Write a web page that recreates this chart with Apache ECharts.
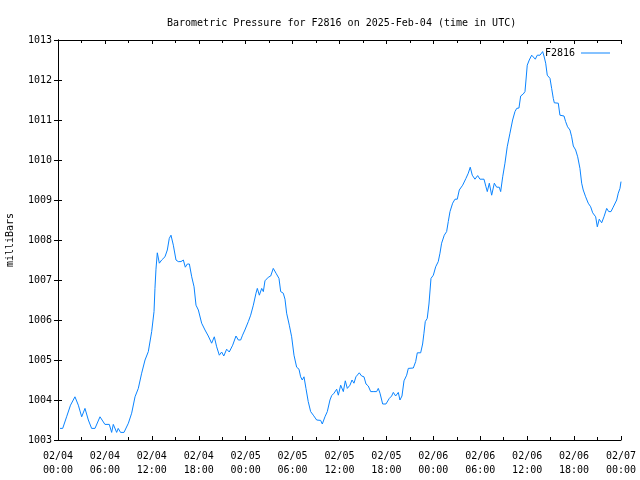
<!DOCTYPE html>
<html>
<head>
<meta charset="utf-8">
<script src="https://cdn.jsdelivr.net/npm/echarts@6/dist/echarts.min.js"></script>
<style>html,body{margin:0;padding:0;background:#fff}#c{width:640px;height:480px}</style>
</head>
<body>
<div id="c"></div>
<script>
var titleText = 'Barometric Pressure for F2816 on 2025-Feb-04 (time in UTC)';
var seriesName = 'F2816';
var yAxisName = 'milliBars';
var dateLabels = ['02/04','02/04','02/04','02/04','02/05','02/05','02/05','02/05','02/06','02/06','02/06','02/06','02/07'];
var timeLabels = ['00:00','06:00','12:00','18:00','00:00','06:00','12:00','18:00','00:00','06:00','12:00','18:00','00:00'];
// hours since 02/04 00:00 UTC
var hours = [0.26,0.6,1.1,1.6,2.17,2.6,3.03,3.45,3.88,4.3,4.73,5.37,6.0,6.56,6.86,7.07,7.5,7.7,8.0,8.44,9.0,9.42,9.85,10.27,10.7,11.13,11.55,11.98,12.28,12.4,12.53,12.7,12.96,13.26,13.68,13.98,14.23,14.45,14.75,15.09,15.38,15.73,16.03,16.28,16.54,16.8,17.1,17.4,17.65,17.95,18.37,18.8,19.22,19.65,19.99,20.29,20.63,20.93,21.2,21.57,21.9,22.34,22.76,23.06,23.36,23.6,23.9,24.34,24.64,24.98,25.32,25.49,25.75,26.05,26.26,26.47,26.9,27.2,27.53,27.88,28.26,28.48,28.81,29.03,29.24,29.58,29.88,30.18,30.52,30.82,31.03,31.24,31.46,31.71,32.0,32.31,32.65,33.08,33.59,33.8,34.14,34.44,34.78,35.0,35.3,35.64,35.85,36.15,36.49,36.74,37.0,37.34,37.6,37.85,38.1,38.32,38.53,38.83,39.13,39.39,39.68,39.99,40.4,40.75,40.96,41.18,41.52,41.94,42.37,42.67,42.88,43.18,43.52,43.73,43.99,44.25,44.59,44.8,45.44,45.74,45.95,46.38,46.63,46.8,46.97,47.22,47.44,47.7,48.0,48.3,48.63,48.85,49.06,49.4,49.7,49.91,50.13,50.47,50.77,51.06,51.32,51.75,52.17,52.47,52.72,52.98,53.32,53.67,53.96,54.48,54.73,54.9,55.16,55.46,55.8,56.1,56.43,56.61,56.87,57.16,57.45,57.8,58.14,58.44,58.66,58.95,59.17,59.5,59.72,59.85,60.01,60.27,60.58,60.78,61.04,61.29,61.64,61.85,61.98,62.15,62.37,62.57,62.92,63.13,63.34,63.47,63.98,64.19,64.71,64.92,65.17,65.47,65.69,65.9,66.2,66.46,66.75,66.97,67.17,67.48,67.81,68.12,68.38,68.76,68.97,69.22,69.53,69.82,70.17,70.43,70.72,71.0,71.23,71.45,71.65,71.87,72.0];
var pressure = [1003.29,1003.29,1003.58,1003.87,1004.08,1003.87,1003.58,1003.79,1003.5,1003.29,1003.29,1003.58,1003.39,1003.39,1003.19,1003.39,1003.19,1003.29,1003.19,1003.19,1003.42,1003.67,1004.08,1004.29,1004.67,1005.0,1005.21,1005.71,1006.21,1006.79,1007.27,1007.68,1007.42,1007.5,1007.58,1007.75,1008.04,1008.12,1007.87,1007.5,1007.46,1007.46,1007.5,1007.32,1007.4,1007.4,1007.08,1006.83,1006.37,1006.25,1005.92,1005.75,1005.6,1005.42,1005.58,1005.33,1005.12,1005.2,1005.1,1005.27,1005.2,1005.37,1005.6,1005.5,1005.5,1005.62,1005.75,1005.96,1006.12,1006.37,1006.67,1006.79,1006.62,1006.79,1006.71,1006.98,1007.07,1007.1,1007.29,1007.17,1007.04,1006.71,1006.67,1006.52,1006.17,1005.87,1005.58,1005.12,1004.82,1004.77,1004.58,1004.5,1004.58,1004.29,1003.96,1003.71,1003.62,1003.5,1003.49,1003.4,1003.58,1003.71,1004.0,1004.11,1004.17,1004.27,1004.12,1004.37,1004.21,1004.48,1004.29,1004.37,1004.5,1004.42,1004.58,1004.55,1004.68,1004.6,1004.58,1004.4,1004.35,1004.21,1004.21,1004.21,1004.29,1004.17,1003.9,1003.9,1004.04,1004.1,1004.19,1004.1,1004.19,1004.0,1004.1,1004.48,1004.62,1004.79,1004.8,1004.96,1005.18,1005.18,1005.4,1005.67,1005.96,1006.04,1006.4,1007.04,1007.12,1007.33,1007.46,1007.67,1007.92,1008.12,1008.21,1008.46,1008.71,1008.92,1009.02,1009.02,1009.25,1009.37,1009.54,1009.67,1009.82,1009.62,1009.52,1009.61,1009.52,1009.52,1009.33,1009.21,1009.42,1009.12,1009.42,1009.32,1009.32,1009.21,1009.58,1009.92,1010.33,1010.67,1011.0,1011.21,1011.29,1011.3,1011.6,1011.65,1011.71,1012.0,1012.37,1012.5,1012.62,1012.6,1012.52,1012.62,1012.62,1012.67,1012.71,1012.6,1012.42,1012.12,1012.04,1011.79,1011.54,1011.43,1011.42,1011.12,1011.1,1010.96,1010.83,1010.75,1010.58,1010.35,1010.25,1010.08,1009.79,1009.42,1009.25,1009.08,1008.92,1008.83,1008.68,1008.58,1008.33,1008.52,1008.43,1008.58,1008.79,1008.71,1008.71,1008.82,1008.82,1009.0,1009.17,1009.29,1009.46];

var data = hours.map(function (h, i) { return [h, pressure[i]]; });
var FONT = 'DejaVu Sans Mono';
var lineColor = '#0a84ff';

var chart = echarts.init(document.getElementById('c'), null, { renderer: 'canvas' });
var axisLine = { show: true, lineStyle: { color: '#000', width: 1 } };
var xCommon = {
  type: 'value', min: 0, max: 72, interval: 6,
  axisLine: axisLine,
  axisTick: { show: true, inside: true, length: 4, lineStyle: { color: '#000' } },
  minorTick: { show: true, splitNumber: 2, length: 3, lineStyle: { color: '#000' } },
  splitLine: { show: false }, minorSplitLine: { show: false }
};
var yCommon = {
  type: 'value', min: 1003, max: 1013, interval: 1,
  axisLine: axisLine,
  axisTick: { show: true, inside: true, length: 4, lineStyle: { color: '#000' } },
  splitLine: { show: false }
};
chart.setOption({
  animation: false,
  backgroundColor: '#fff',
  title: {
    text: titleText, left: 162, top: 13,
    textStyle: { fontFamily: FONT, fontSize: 10, fontWeight: 'normal', color: '#000' }
  },
  legend: {
    data: [{ name: seriesName, icon: 'rect' }],
    right: 25, top: 43, align: 'right', itemWidth: 29, itemHeight: 1, itemGap: 0,
    textStyle: { fontFamily: FONT, fontSize: 10, color: '#000', padding: [0, 1, 0, 0] }
  },
  grid: { left: 58, right: 19, top: 40, bottom: 40, containLabel: false, outerBoundsMode: 'none' },
  xAxis: [
    Object.assign({}, xCommon, {
      position: 'bottom',
      axisLabel: {
        show: true, margin: 9, lineHeight: 14, fontFamily: FONT, fontSize: 10, color: '#000',
        showMinLabel: true, showMaxLabel: true,
        formatter: function (v) { var i = Math.round(v / 6); return dateLabels[i] + '\n' + timeLabels[i]; }
      }
    }),
    Object.assign({}, xCommon, { position: 'top', axisLabel: { show: false } })
  ],
  yAxis: [
    Object.assign({}, yCommon, {
      position: 'left',
      name: yAxisName, nameLocation: 'middle', nameGap: 43, nameRotate: 90,
      nameTextStyle: { fontFamily: FONT, fontSize: 10, color: '#000' },
      axisLabel: { show: true, margin: 6, fontFamily: FONT, fontSize: 10, color: '#000',
        formatter: function (v) { return String(v); } }
    }),
    Object.assign({}, yCommon, { position: 'right', axisLabel: { show: false } })
  ],
  series: [{
    name: seriesName, type: 'line', xAxisIndex: 0, yAxisIndex: 0,
    data: data, showSymbol: false, symbol: 'none',
    lineStyle: { color: lineColor, width: 1 }, itemStyle: { color: lineColor }
  }]
});
</script>
</body>
</html>
